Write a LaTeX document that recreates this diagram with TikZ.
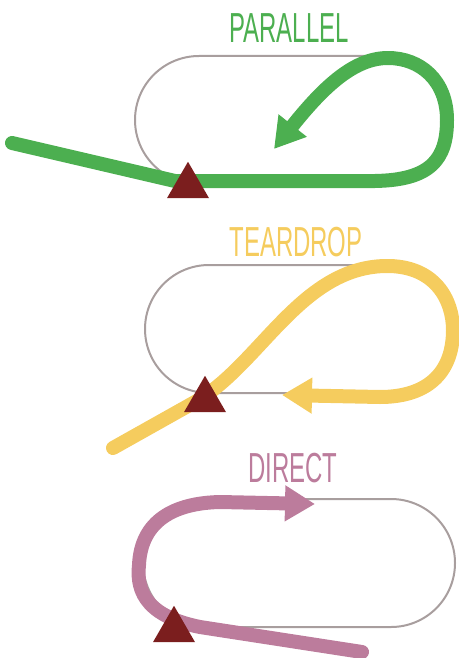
\documentclass[tikz,border=0pt]{standalone}
\usepackage{fontspec}
\setmainfont{Liberation Sans}
\usepackage{tikz}
\usetikzlibrary{arrows.meta,shapes.geometric}
\definecolor{trackgray}{RGB}{168,158,158}
\definecolor{pathgreen}{RGB}{76,175,80}
\definecolor{pathyellow}{RGB}{245,204,94}
\definecolor{pathpink}{RGB}{188,124,156}
\definecolor{entryred}{RGB}{123,30,30}

\begin{document}
\begin{tikzpicture}[x=1pt,y=-1pt,
	track/.style={draw=trackgray, line width=2pt, rounded corners=64pt},
	route/.style={line width=14pt, line cap=round, line join=round},
	entry/.style={regular polygon, regular polygon sides=3, fill=entryred, minimum size=48.5pt, inner sep=0pt},
	titletext/.style={inner sep=0pt, font=\fontsize{42}{42}\selectfont}]
	\useasboundingbox (0,0) rectangle (458,658);
	% holding patterns
	\draw[track] (135,56) rectangle (447,184);
	\draw[track] (145,265) rectangle (457,393);
	\draw[track] (143,499) rectangle (455,627);
	% titles
	\node[titletext, text=pathgreen] (parallel) at (289,28) {\scalebox{0.57}[1]{PARALLEL}};
	\node[titletext, text=pathyellow] (teardrop) at (296,242) {\scalebox{0.57}[1]{TEARDROP}};
	\node[titletext, text=pathpink] (direct) at (293,468) {\scalebox{0.57}[1]{DIRECT}};
	% entries
	\coordinate (startP) at (12,143);
	\coordinate (startT) at (113,448);
	\coordinate (startD) at (362,652);
	\draw[route, draw=pathgreen, -{Triangle[length=30pt,width=34pt]}] (startP) -- (175,181) -- (375,181)
		.. controls (430,180) and (447,160) .. (447,120)
		.. controls (447,80) and (420,58) .. (388,58)
		.. controls (355,58) and (325,85) .. (274,149);
	\draw[route, draw=pathyellow, -{Triangle[length=30pt,width=34pt]}] (startT) -- (195,402)
		.. controls (260,365) and (300,268) .. (385,266)
		.. controls (435,265) and (453,300) .. (453,330)
		.. controls (453,375) and (425,397) .. (380,397) -- (282,395);
	\draw[route, draw=pathpink, -{Triangle[length=30pt,width=34pt]}] (startD) -- (200,627)
		.. controls (140,615) and (137,585) .. (139,565)
		.. controls (141,520) and (175,503) .. (220,502) -- (315,504);
	\foreach \n/\x/\y in {P/188/186, T/205/400, D/174/630}
	{
		\node[entry] (entry\n) at (\x,\y) {};
	}
\end{tikzpicture}
\end{document}
